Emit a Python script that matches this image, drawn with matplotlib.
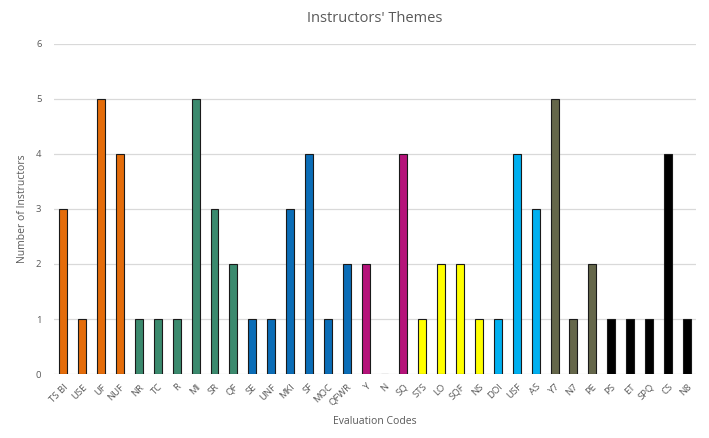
import matplotlib.pyplot as plt

# data
codes = ['TS BI', 'USE', 'UF', 'NUF', 'NR', 'TC', 'R', 'MI', 'SR', 'QF',
         'SE', 'UNF', 'MKI', 'SF', 'MOC', 'QFWR', 'Y', 'N', 'SQ', 'STS',
         'LO', 'SQF', 'NS', 'DOI', 'USF', 'AS', 'Y7', 'N7', 'PE', 'PS',
         'ET', 'SPQ', 'CS', 'N8']
counts = [3, 1, 5, 4, 1, 1, 1, 5, 3, 2,
          1, 1, 3, 4, 1, 2, 2, 0, 4, 1,
          2, 2, 1, 1, 4, 3, 5, 1, 2, 1,
          1, 1, 4, 1]
group_colors = ['#E46C0A'] * 4 + ['#3B8A6E'] * 6 + ['#0B6DB7'] * 6 + \
               ['#B5137A'] * 3 + ['#FFFF00'] * 4 + ['#00B0F0'] * 3 + \
               ['#65674A'] * 3 + ['#000000'] * 5

plt.rcParams['font.family'] = ['Open Sans', 'DejaVu Sans']
txt = '#595959'

fig = plt.figure(figsize=(7.09, 4.38), dpi=100)
ax = fig.add_axes([0.076, 0.146, 0.906, 0.754])

x = range(len(codes))
ax.bar(x, counts, width=0.42, color=group_colors, edgecolor='#1a1a1a',
       linewidth=0.8, zorder=3)

ax.set_xlim(-0.5, len(codes) - 0.5)
ax.set_ylim(0, 6)
ax.set_yticks(range(7))
ax.grid(axis='y', color='#D9D9D9', linewidth=0.9, zorder=0)
for s in ax.spines.values():
    s.set_visible(False)
ax.tick_params(length=0, colors=txt, labelsize=6.8)
ax.tick_params(axis='y', pad=9)
ax.set_xticks(list(x))
ax.set_xticklabels(codes, rotation=45, ha='right', rotation_mode='anchor')
ax.tick_params(axis='x', pad=6)

ax.set_title("Instructors' Themes", color=txt, fontsize=10.5, pad=16)
ax.set_xlabel('Evaluation Codes', color=txt, fontsize=7.5, labelpad=6)
ax.set_ylabel('Number of Instructors', color=txt, fontsize=7.5, labelpad=6)

fig.savefig('out.png', dpi=100)
